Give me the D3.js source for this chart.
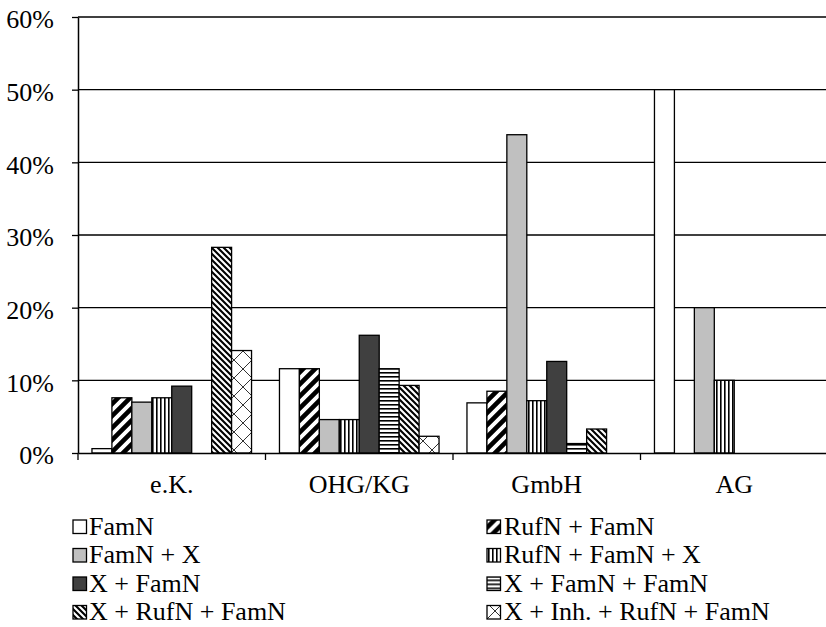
<!DOCTYPE html>
<html>
<head>
<meta charset="utf-8">
<script src="https://cdn.jsdelivr.net/npm/d3@7"></script>
<style>
  html, body { margin: 0; padding: 0; background: #fff; }
  svg { display: block; }
  text { font-family: "Liberation Serif", "Times New Roman", serif; fill: #000; }
</style>
</head>
<body>
<svg id="chart" width="826" height="627"></svg>
<script>
// Legal forms on the x axis
const categories = ["e.K.", "OHG/KG", "GmbH", "AG"];

// Name patterns (series)
const seriesNames = [
  "FamN",
  "RufN + FamN",
  "FamN + X",
  "RufN + FamN + X",
  "X + FamN",
  "X + FamN + FamN",
  "X + RufN + FamN",
  "X + Inh. + RufN + FamN"
];

// Shares in percent, one value per legal form
const famN          = [0.6, 11.6, 6.9, 50];
const rufnFamN      = [7.6, 11.6, 8.5, 0];
const famNX         = [7.0, 4.6, 43.8, 20];
const rufnFamNX     = [7.6, 4.6, 7.2, 10];
const xFamN         = [9.2, 16.2, 12.6, 0];
const xFamNFamN     = [0, 11.6, 1.3, 0];
const xRufnFamN     = [28.3, 9.3, 3.3, 0];
const xInhRufnFamN  = [14.1, 2.3, 0, 0];

const seriesValues = [famN, rufnFamN, famNX, rufnFamNX, xFamN, xFamNFamN, xRufnFamN, xInhRufnFamN];

// Y axis tick values
const yTicks = [0, 10, 20, 30, 40, 50, 60];
const yTickLabels = ["0%", "10%", "20%", "30%", "40%", "50%", "60%"];

// Fill for each series (solid colours or pattern ids)
const seriesFills = [
  "#ffffff",
  "url(#p-updiag)",
  "#c0c0c0",
  "url(#p-vert)",
  "#404040",
  "url(#p-horiz)",
  "url(#p-downdiag)",
  "url(#p-lattice)"
];

const svg = d3.select("#chart");

// ---- hatch patterns ----
const defs = svg.append("defs");

function pattern(id, w, h) {
  const p = defs.append("pattern")
    .attr("id", id)
    .attr("patternUnits", "userSpaceOnUse")
    .attr("width", w).attr("height", h);
  p.append("rect").attr("width", w).attr("height", h).attr("fill", "#fff");
  return p;
}

// wide upward diagonal
pattern("p-updiag", 12, 12).append("path")
  .attr("d", "M0,12 L12,0 M-6,6 L6,-6 M6,18 L18,6")
  .attr("stroke", "#000").attr("stroke-width", 4.6);

// narrow vertical lines
pattern("p-vert", 4, 4).append("rect")
  .attr("x", 0).attr("y", 0).attr("width", 1.6).attr("height", 4).attr("fill", "#000");

// narrow horizontal lines
pattern("p-horiz", 4, 4).append("rect")
  .attr("x", 0).attr("y", 0).attr("width", 4).attr("height", 1.6).attr("fill", "#000");

// dense downward diagonal
pattern("p-downdiag", 6, 6).append("path")
  .attr("d", "M0,0 L6,6 M-3,3 L3,9 M3,-3 L9,3")
  .attr("stroke", "#000").attr("stroke-width", 2.1);

// large diamond lattice
pattern("p-lattice", 18, 18).append("path")
  .attr("d", "M0,0 L18,18 M18,0 L0,18")
  .attr("stroke", "#333").attr("stroke-width", 1);

// ---- scales ----
const plotLeft = 78, plotRight = 828, plotTop = 17, plotBottom = 453;

const x0 = d3.scaleBand()
  .domain(categories)
  .range([plotLeft, plotRight])
  .paddingInner(0)
  .paddingOuter(0);

const x1 = d3.scaleBand()
  .domain(d3.range(seriesNames.length))
  .range([0, x0.bandwidth()])
  .paddingInner(0)
  .paddingOuter(0.7);

const y = d3.scaleLinear().domain([0, 60]).range([plotBottom, plotTop]);

// ---- gridlines ----
svg.append("g")
  .selectAll("line")
  .data(yTicks.filter(d => d > 0))
  .join("line")
  .attr("x1", plotLeft).attr("x2", plotRight)
  .attr("y1", d => y(d)).attr("y2", d => y(d))
  .attr("stroke", "#000").attr("stroke-width", 1.3);

// ---- bars ----
const barData = [];
seriesValues.forEach((vals, si) => {
  vals.forEach((v, ci) => {
    if (v > 0) barData.push({ si, cat: categories[ci], v });
  });
});

svg.append("g")
  .selectAll("rect")
  .data(barData)
  .join("rect")
  .attr("x", d => x0(d.cat) + x1(d.si))
  .attr("width", x1.bandwidth())
  .attr("y", d => y(d.v))
  .attr("height", d => y(0) - y(d.v))
  .attr("fill", d => seriesFills[d.si])
  .attr("stroke", "#000")
  .attr("stroke-width", 1.3);

// ---- y axis ----
const yAxis = d3.axisLeft(y)
  .tickValues(yTicks)
  .tickFormat((d, i) => yTickLabels[i])
  .tickSizeInner(6)
  .tickSizeOuter(0)
  .tickPadding(18);

const gy = svg.append("g")
  .attr("transform", `translate(${plotLeft},0)`)
  .call(yAxis);
gy.select(".domain").attr("stroke", "#000").attr("stroke-width", 1.5);
gy.selectAll(".tick line").attr("stroke", "#000").attr("stroke-width", 1.3);
gy.selectAll(".tick text")
  .attr("font-family", "Liberation Serif, serif")
  .attr("font-size", 26)
  .attr("dy", "0.42em");

// ---- x axis ----
const xAxis = d3.axisBottom(x0).tickSize(0).tickPadding(40);
const gx = svg.append("g")
  .attr("transform", `translate(0,${plotBottom})`)
  .call(xAxis);
gx.select(".domain").attr("stroke", "#000").attr("stroke-width", 1.5);
gx.selectAll(".tick text")
  .attr("font-family", "Liberation Serif, serif")
  .attr("font-size", 26)
  .attr("y", 40)
  .attr("dy", 0);

// category boundary ticks below the axis
const boundaries = categories.map(c => x0(c)).concat([x0(categories[categories.length - 1]) + x0.bandwidth()]);
svg.append("g")
  .selectAll("line")
  .data(boundaries)
  .join("line")
  .attr("x1", d => d).attr("x2", d => d)
  .attr("y1", plotBottom).attr("y2", plotBottom + 7)
  .attr("stroke", "#000").attr("stroke-width", 1.3);

// ---- legend (two columns) ----
const legendCols = [{ sx: 73, tx: 89 }, { sx: 487, tx: 504 }];
const legendBaselines = [534.5, 563, 591.5, 620];

const legend = svg.append("g")
  .selectAll("g")
  .data(seriesNames.map((name, i) => ({ name, i })))
  .join("g")
  .attr("transform", d => `translate(0,${legendBaselines[Math.floor(d.i / 2)]})`);

legend.append("rect")
  .attr("x", d => legendCols[d.i % 2].sx)
  .attr("y", -14.5)
  .attr("width", 13.5).attr("height", 13.5)
  .attr("fill", d => seriesFills[d.i])
  .attr("stroke", "#000").attr("stroke-width", 1.3);

legend.append("text")
  .attr("x", d => legendCols[d.i % 2].tx)
  .attr("y", 0)
  .attr("font-size", 26)
  .text(d => d.name);
</script>
</body>
</html>
